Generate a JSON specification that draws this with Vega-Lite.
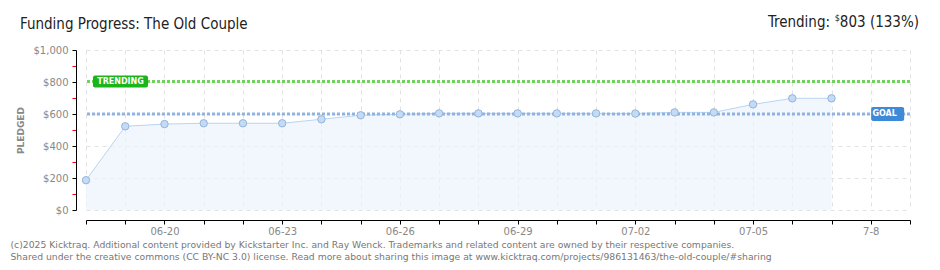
{
  "$schema": "https://vega.github.io/schema/vega-lite/v6.json",
  "width": 824,
  "height": 160,
  "autosize": {"type": "none"},
  "padding": {"left": 86, "top": 50, "right": 30, "bottom": 60},
  "background": "white",
  "config": {
    "view": {"stroke": null},
    "axis": {
      "labelFont": "DejaVu Sans",
      "labelFontSize": 10,
      "labelColor": "#888888",
      "titleFont": "DejaVu Sans",
      "domainColor": "#000000",
      "tickColor": "#000000"
    }
  },
  "datasets": {
    "pledges": [
      {"date": "2025-06-18", "pledged": 186},
      {"date": "2025-06-19", "pledged": 523},
      {"date": "2025-06-20", "pledged": 537},
      {"date": "2025-06-21", "pledged": 542},
      {"date": "2025-06-22", "pledged": 542},
      {"date": "2025-06-23", "pledged": 542},
      {"date": "2025-06-24", "pledged": 567},
      {"date": "2025-06-25", "pledged": 592},
      {"date": "2025-06-26", "pledged": 598},
      {"date": "2025-06-27", "pledged": 604},
      {"date": "2025-06-28", "pledged": 604},
      {"date": "2025-06-29", "pledged": 604},
      {"date": "2025-06-30", "pledged": 604},
      {"date": "2025-07-01", "pledged": 604},
      {"date": "2025-07-02", "pledged": 603},
      {"date": "2025-07-03", "pledged": 610},
      {"date": "2025-07-04", "pledged": 610},
      {"date": "2025-07-05", "pledged": 660},
      {"date": "2025-07-06", "pledged": 698},
      {"date": "2025-07-07", "pledged": 698}
    ],
    "header": [{"date": "2025-07-09", "pledged": 1000}],
    "titleRow": [{"date": "2025-06-18", "pledged": 1000, "label": "Funding Progress: The Old Couple"}]
  },
  "layer": [
    {
      "data": {"name": "pledges"},
      "mark": {"type": "area", "fill": "#edf4fd", "line": {"color": "#b9d5f3", "strokeWidth": 1}},
      "encoding": {
        "x": {
          "field": "date",
          "type": "temporal",
          "scale": {"type": "utc", "domain": [{"year": 2025, "month": 6, "date": 18, "utc": true}, {"year": 2025, "month": 7, "date": 9, "utc": true}]},
          "axis": {
            "offset": 10,
            "tickCount": {"interval": "day", "step": 1},
            "tickSize": 4,
            "labelPadding": 2,
            "labelExpr": "((time(datum.value) - 1750377600000) / 86400000) % 3 == 0 ? (time(datum.value) == 1751932800000 ? '7-8' : utcFormat(datum.value, '%m-%d')) : ''",
            "labelOverlap": false,
            "grid": true,
            "gridColor": "#e2e2e2",
            "gridDash": [4, 4],
            "title": [
              "(c)2025 Kicktraq. Additional content provided by Kickstarter Inc. and Ray Wenck. Trademarks and related content are owned by their respective companies.",
              "Shared under the creative commons (CC BY-NC 3.0) license. Read more about sharing this image at www.kicktraq.com/projects/986131463/the-old-couple/#sharing"
            ],
            "titleFont": "DejaVu Sans",
            "titleFontSize": 9.25,
            "titleFontWeight": "normal",
            "titleColor": "#777777",
            "titleAnchor": "start",
            "titleAlign": "left",
            "titleBaseline": "alphabetic",
            "titleLineHeight": 12.5,
            "titleX": -76,
            "titleY": 27
          }
        },
        "y": {
          "field": "pledged",
          "type": "quantitative",
          "scale": {"domain": [0, 1000]},
          "axis": {
            "offset": 10,
            "values": [0, 100, 200, 300, 400, 500, 600, 700, 800, 900, 1000],
            "tickCount": 11,
            "format": "$,.0f",
            "labelExpr": "datum.value % 200 == 0 ? datum.label : ''",
            "labelOverlap": false,
            "tickSize": 4,
            "labelPadding": 4,
            "tickColor": {"condition": {"test": "datum.value % 200 == 0", "value": "#000000"}, "value": "#ff0000"},
            "grid": true,
            "gridColor": "#e2e2e2",
            "gridDash": [4, 4],
            "gridOpacity": {"condition": {"test": "datum.value % 200 == 0", "value": 1}, "value": 0},
            "title": "PLEDGED",
            "titleFontSize": 9,
            "titleFontWeight": "bold",
            "titleColor": "#888888",
            "titlePadding": 8
          }
        }
      }
    },
    {
      "data": {"values": [{"pledged": 600}]},
      "mark": {"type": "rule", "color": "#8fb4e2", "strokeWidth": 3, "strokeDash": [3, 2]},
      "encoding": {"y": {"field": "pledged", "type": "quantitative"}}
    },
    {
      "data": {"values": [{"pledged": 803}]},
      "mark": {"type": "rule", "color": "#6dd35a", "strokeWidth": 3, "strokeDash": [3, 2]},
      "encoding": {"y": {"field": "pledged", "type": "quantitative"}}
    },
    {
      "data": {"name": "pledges"},
      "mark": {"type": "circle", "size": 55, "fill": "#c4dbf5", "stroke": "#94b4da", "strokeWidth": 1, "opacity": 1},
      "encoding": {
        "x": {"field": "date", "type": "temporal"},
        "y": {"field": "pledged", "type": "quantitative"}
      }
    },
    {
      "data": {"values": [{"date": "2025-06-18T21:06:00Z", "pledged": 803, "label": "TRENDING"}]},
      "layer": [
        {"mark": {"type": "rect", "width": 55, "height": 12, "fill": "#1bb51b", "cornerRadius": 2}},
        {"mark": {"type": "text", "font": "DejaVu Sans", "fontSize": 8, "fontWeight": "bold", "color": "white", "align": "center", "baseline": "middle", "dy": 0}, "encoding": {"text": {"field": "label"}}}
      ],
      "encoding": {
        "x": {"field": "date", "type": "temporal"},
        "y": {"field": "pledged", "type": "quantitative"}
      }
    },
    {
      "data": {"values": [{"date": "2025-07-08T10:20:00Z", "pledged": 600, "label": "GOAL"}]},
      "layer": [
        {"mark": {"type": "rect", "width": 33, "height": 14, "fill": "#3d8ad8", "cornerRadius": 2}},
        {"mark": {"type": "text", "font": "DejaVu Sans", "fontSize": 8, "fontWeight": "bold", "color": "white", "align": "center", "baseline": "middle", "dx": -3}, "encoding": {"text": {"field": "label"}}}
      ],
      "encoding": {
        "x": {"field": "date", "type": "temporal"},
        "y": {"field": "pledged", "type": "quantitative"}
      }
    },
    {
      "data": {"name": "titleRow"},
      "mark": {"type": "text", "font": "DejaVu Sans Condensed", "fontSize": 15, "color": "#222222", "align": "left", "baseline": "alphabetic", "dx": -66, "dy": -21},
      "encoding": {
        "x": {"field": "date", "type": "temporal"},
        "y": {"field": "pledged", "type": "quantitative"},
        "text": {"field": "label"}
      }
    },
    {
      "data": {"name": "header"},
      "layer": [
        {"mark": {"type": "text", "text": "803 (133%)", "font": "DejaVu Sans Condensed", "fontSize": 15, "color": "#222222", "align": "right", "baseline": "alphabetic", "dx": 9, "dy": -23}},
        {"mark": {"type": "text", "text": "$", "font": "DejaVu Sans Condensed", "fontSize": 9, "color": "#222222", "align": "right", "baseline": "alphabetic", "dx": -70, "dy": -29}},
        {"mark": {"type": "text", "text": "Trending:", "font": "DejaVu Sans Condensed", "fontSize": 15, "color": "#222222", "align": "right", "baseline": "alphabetic", "dx": -80, "dy": -23}}
      ],
      "encoding": {
        "x": {"field": "date", "type": "temporal"},
        "y": {"field": "pledged", "type": "quantitative"}
      }
    }
  ]
}
